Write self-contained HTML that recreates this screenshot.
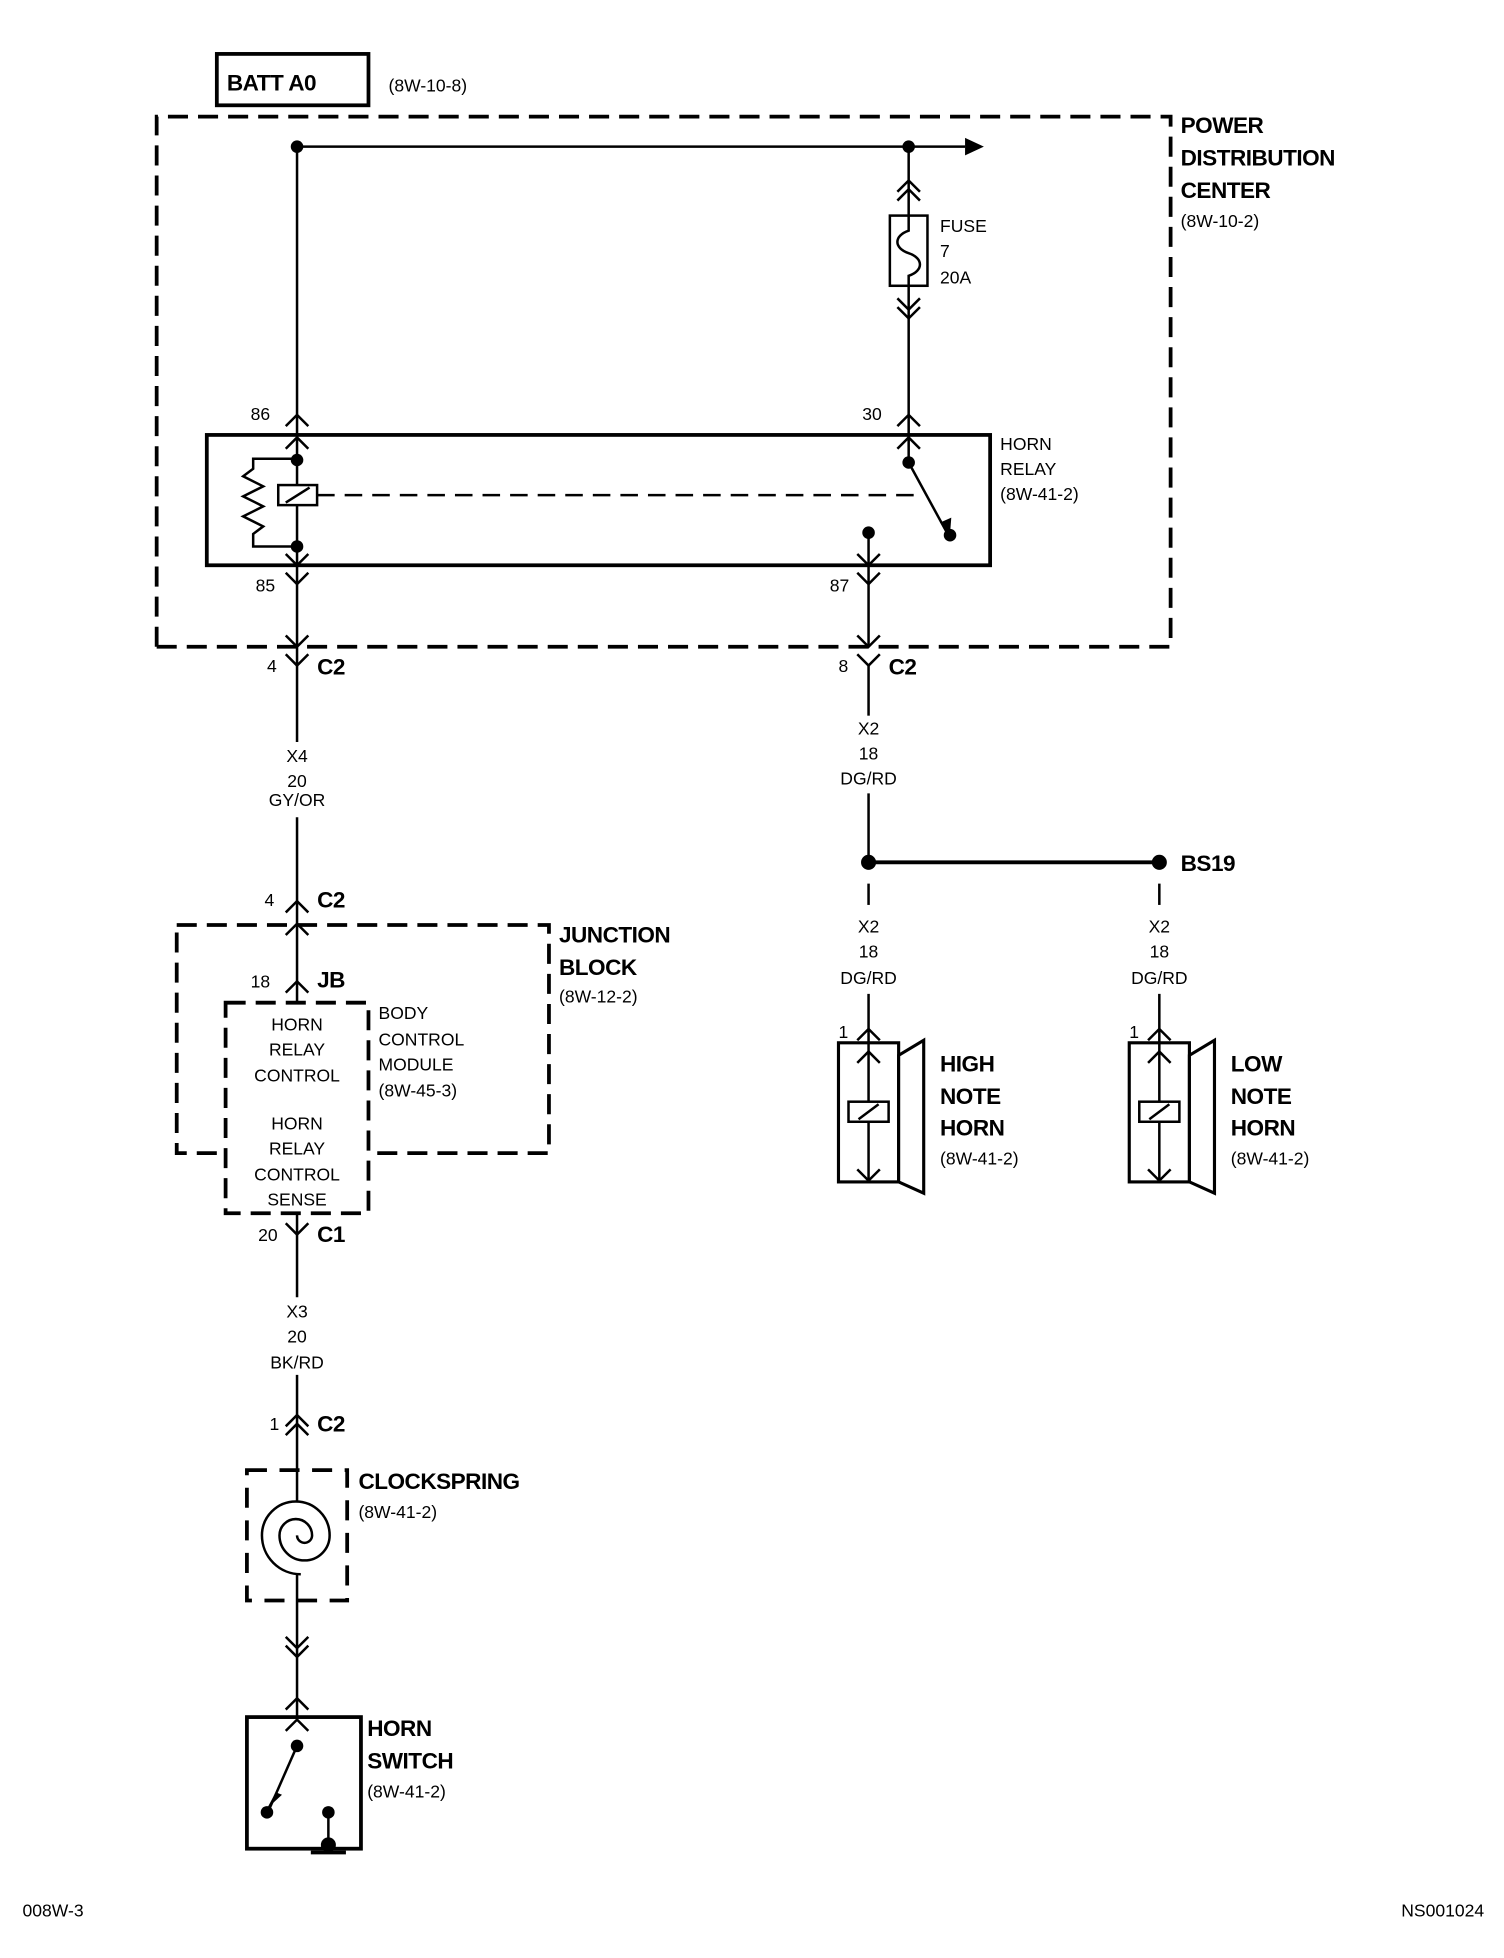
<!DOCTYPE html>
<html><head><meta charset="utf-8"><style>
html,body{margin:0;padding:0;background:#fff;}
svg{display:block;}
text{font-family:"Liberation Sans",Arial,sans-serif;fill:#000;}
.b{font-weight:bold;font-size:18px;letter-spacing:-0.4px;}
.s{font-size:14px;}
</style></head><body>
<svg width="1504" height="1958" viewBox="0 0 1200 1562.2" xmlns="http://www.w3.org/2000/svg">
<g fill="none" stroke="#000" stroke-width="2">
<rect x="173" y="43" width="121" height="41" stroke-width="3"/>
<path d="M125,516 V93 H934 V516 H125" stroke-width="3" stroke-dasharray="16,8"/>
<line x1="237" y1="117" x2="237" y2="516"/>
<line x1="237" y1="117" x2="770" y2="117"/>
<line x1="725" y1="117" x2="725" y2="369"/>
<polyline points="716,153 725,144 734,153"/><polyline points="716,160 725,151 734,160"/>
<rect x="710" y="172" width="30" height="56" fill="#fff"/>
<path d="M725,172 v12 c-12,4 -12,14 0,18 c12,4 12,14 0,18 v8"/>
<polyline points="716,238 725,247 734,238"/><polyline points="716,245 725,254 734,245"/>
<polyline points="228,340 237,331 246,340"/>
<polyline points="228,358 237,349 246,358"/>
<polyline points="716,340 725,331 734,340"/>
<polyline points="716,358 725,349 734,358"/>
<rect x="165" y="347" width="625" height="104" stroke-width="3"/>
<path d="M237,366 H202 v8 l-8,6 l16,8 l-16,8 l16,8 l-16,8 l16,8 l-8,6 v10 H237"/>
<rect x="222" y="387" width="31" height="16" fill="#fff"/>
<line x1="228" y1="401" x2="247" y2="389"/>
<line x1="253" y1="395" x2="735" y2="395" stroke-dasharray="14,8"/>
<line x1="725" y1="369" x2="755" y2="424"/>
<line x1="693" y1="425" x2="693" y2="516"/>
<polyline points="228,442 237,451 246,442"/>
<polyline points="684,442 693,451 702,442"/>
<polyline points="228,457 237,466 246,457"/>
<polyline points="684,457 693,466 702,457"/>
<polyline points="228,507 237,516 246,507"/>
<polyline points="684,507 693,516 702,507"/>
<polyline points="228,522 237,531 246,522"/>
<polyline points="684,522 693,531 702,522"/>
<line x1="237" y1="516" x2="237" y2="592"/>
<line x1="237" y1="652" x2="237" y2="1035"/>
<polyline points="228,728 237,719 246,728"/>
<polyline points="228,746 237,737 246,746"/>
<polyline points="228,792 237,783 246,792"/>
<polyline points="228,810 237,801 246,810"/>
<rect x="141" y="738" width="297" height="182" stroke-width="3" stroke-dasharray="16,8"/>
<rect x="180" y="800" width="114" height="168" stroke-width="3" stroke-dasharray="16,8" fill="#fff"/>
<polyline points="228,976 237,985 246,976"/>
<line x1="237" y1="1097" x2="237" y2="1370"/>
<polyline points="228,1138 237,1129 246,1138"/><polyline points="228,1145 237,1136 246,1145"/>
<rect x="197" y="1173" width="80" height="104" stroke-width="3" stroke-dasharray="16,10"/>
<path d="M237,1225 a6,6 0 0 0 12,0 a13,13 0 0 0 -26,0 a20,20 0 0 0 40,0 a27,27 0 0 0 -54,0 a31,31 0 0 0 31,31" fill="#fff"/>
<polyline points="228,1306 237,1315 246,1306"/><polyline points="228,1313 237,1322 246,1313"/>
<polyline points="228,1364 237,1355 246,1364"/>
<polyline points="228,1381 237,1372 246,1381"/>
<rect x="197" y="1370" width="91" height="105" stroke-width="3"/>
<line x1="237" y1="1393" x2="215" y2="1443"/>
<line x1="262" y1="1447" x2="262" y2="1472"/>
<line x1="248" y1="1478" x2="276" y2="1478" stroke-width="3"/>
<line x1="693" y1="531" x2="693" y2="571"/>
<line x1="693" y1="633" x2="693" y2="688"/>
<line x1="693" y1="688" x2="925" y2="688" stroke-width="3"/>
<line x1="693" y1="705" x2="693" y2="722"/>
<line x1="925" y1="705" x2="925" y2="722"/>
<line x1="693" y1="793" x2="693" y2="943"/>
<line x1="925" y1="793" x2="925" y2="943"/>
<polyline points="684,830 693,821 702,830"/>
<polyline points="916,830 925,821 934,830"/>
<g id="h1">
<rect x="669" y="832" width="48" height="111" stroke-width="2.5"/>
<polygon points="717,842 737,830 737,952 717,943" stroke-width="2.5" fill="#fff"/>
<polyline points="684,848 693,839 702,848"/>
<polyline points="684,933 693,942 702,933"/>
<rect x="677" y="879" width="32" height="16" fill="#fff"/>
<line x1="685" y1="893" x2="701" y2="881"/>
</g>
<use href="#h1" x="232"/>
</g>
<g fill="#000">
<circle cx="237" cy="117" r="5"/><circle cx="725" cy="117" r="5"/>
<polygon points="770,110 785,117 770,124"/>
<circle cx="237" cy="367" r="5"/><circle cx="237" cy="436" r="5"/>
<circle cx="725" cy="369" r="5"/><circle cx="758" cy="427" r="5"/>
<circle cx="693" cy="425" r="5"/>
<polygon points="750,417 758,426 759,413"/>
<circle cx="693" cy="688" r="6"/><circle cx="925" cy="688" r="6"/>
<circle cx="237" cy="1393" r="5"/><circle cx="213" cy="1446" r="5"/><circle cx="262" cy="1446" r="5"/><circle cx="262" cy="1472" r="6"/>
<polygon points="220,1430 213,1443 225,1432"/>
</g>
<text class="b" x="181" y="72">BATT A0</text>
<text class="s" x="310" y="73">(8W-10-8)</text>
<text class="b" x="942" y="106">POWER</text>
<text class="b" x="942" y="132">DISTRIBUTION</text>
<text class="b" x="942" y="158">CENTER</text>
<text class="s" x="942" y="181">(8W-10-2)</text>
<text class="s" x="750" y="185">FUSE</text>
<text class="s" x="750" y="205">7</text>
<text class="s" x="750" y="226">20A</text>
<text class="s" x="200" y="335">86</text>
<text class="s" x="688" y="335">30</text>
<text class="s" x="798" y="359">HORN</text>
<text class="s" x="798" y="379">RELAY</text>
<text class="s" x="798" y="399">(8W-41-2)</text>
<text class="s" x="204" y="472">85</text>
<text class="s" x="662" y="472">87</text>
<text class="s" x="213" y="536">4</text><text class="b" x="253" y="538">C2</text>
<text class="s" x="669" y="536">8</text><text class="b" x="709" y="538">C2</text>
<g class="s" text-anchor="middle">
<text x="237" y="608">X4</text><text x="237" y="628">20</text><text x="237" y="643">GY/OR</text>
<text x="693" y="586">X2</text><text x="693" y="606">18</text><text x="693" y="626">DG/RD</text>
<text x="693" y="744">X2</text><text x="693" y="764">18</text><text x="693" y="785">DG/RD</text>
<text x="925" y="744">X2</text><text x="925" y="764">18</text><text x="925" y="785">DG/RD</text>
<text x="237" y="1051">X3</text><text x="237" y="1071">20</text><text x="237" y="1092">BK/RD</text>
<text x="237" y="822">HORN</text><text x="237" y="842">RELAY</text><text x="237" y="863">CONTROL</text>
<text x="237" y="901">HORN</text><text x="237" y="921">RELAY</text><text x="237" y="942">CONTROL</text><text x="237" y="962">SENSE</text>
</g>
<text class="b" x="942" y="695">BS19</text>
<text class="s" x="211" y="723">4</text><text class="b" x="253" y="724">C2</text>
<text class="b" x="446" y="752">JUNCTION</text>
<text class="b" x="446" y="778">BLOCK</text>
<text class="s" x="446" y="800">(8W-12-2)</text>
<text class="s" x="200" y="788">18</text><text class="b" x="253" y="788">JB</text>
<text class="s" x="302" y="813">BODY</text>
<text class="s" x="302" y="834">CONTROL</text>
<text class="s" x="302" y="854">MODULE</text>
<text class="s" x="302" y="875">(8W-45-3)</text>
<text class="s" x="206" y="990">20</text><text class="b" x="253" y="991">C1</text>
<text class="s" x="215" y="1141">1</text><text class="b" x="253" y="1142">C2</text>
<text class="b" x="286" y="1188">CLOCKSPRING</text>
<text class="s" x="286" y="1211">(8W-41-2)</text>
<text class="b" x="293" y="1385">HORN</text>
<text class="b" x="293" y="1411">SWITCH</text>
<text class="s" x="293" y="1434">(8W-41-2)</text>
<text class="s" x="669" y="828">1</text>
<text class="s" x="901" y="828">1</text>
<text class="b" x="750" y="855">HIGH</text><text class="b" x="750" y="881">NOTE</text><text class="b" x="750" y="906">HORN</text>
<text class="s" x="750" y="929">(8W-41-2)</text>
<text class="b" x="982" y="855">LOW</text><text class="b" x="982" y="881">NOTE</text><text class="b" x="982" y="906">HORN</text>
<text class="s" x="982" y="929">(8W-41-2)</text>
<text class="s" x="18" y="1529">008W-3</text>
<text class="s" x="1118" y="1529">NS001024</text>
</svg>
</body></html>
